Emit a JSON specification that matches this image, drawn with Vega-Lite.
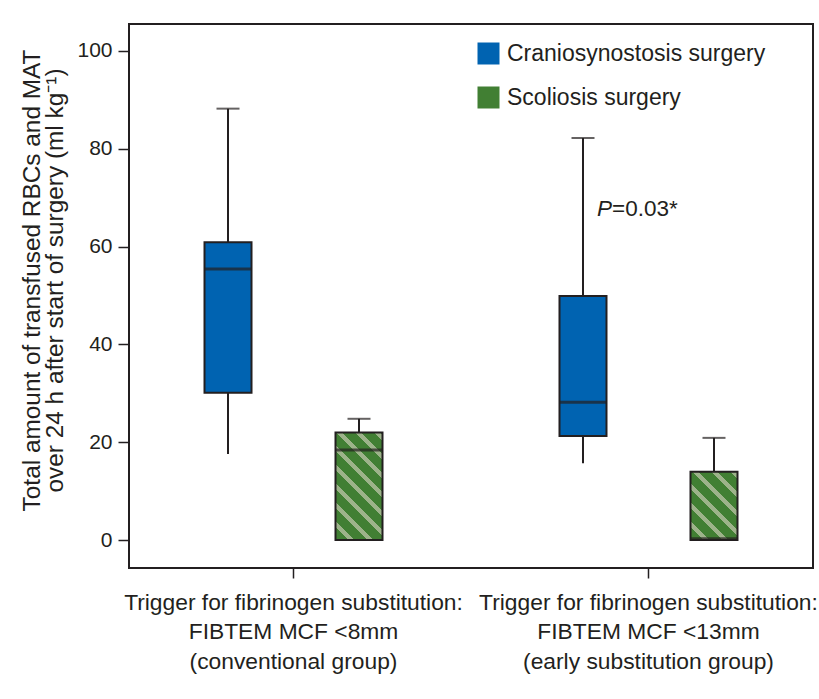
{
  "$schema": "https://vega.github.io/schema/vega-lite/v6.json",
  "width": 684,
  "height": 544,
  "autosize": {"type": "none"},
  "padding": {"left": 129, "top": 24, "right": 6, "bottom": 131},
  "background": "#ffffff",
  "config": {
    "font": "Liberation Sans",
    "view": {"stroke": "#231F20", "strokeWidth": 2},
    "axis": {"labelColor": "#231F20", "titleColor": "#231F20", "tickColor": "#231F20", "domain": false, "grid": false, "tickWidth": 1.5}
  },
  "data": {
    "values": [
      {"group": "Trigger for fibrinogen substitution:|FIBTEM MCF <8mm|(conventional group)", "surgery": "Craniosynostosis surgery", "min": 17.6, "q1": 30.1, "median": 55.4, "q3": 60.9, "max": 88.2},
      {"group": "Trigger for fibrinogen substitution:|FIBTEM MCF <8mm|(conventional group)", "surgery": "Scoliosis surgery", "min": 0, "q1": 0, "median": 18.4, "q3": 22, "max": 24.8},
      {"group": "Trigger for fibrinogen substitution:|FIBTEM MCF <13mm|(early substitution group)", "surgery": "Craniosynostosis surgery", "min": 15.7, "q1": 21.3, "median": 28.2, "q3": 49.9, "max": 82.2},
      {"group": "Trigger for fibrinogen substitution:|FIBTEM MCF <13mm|(early substitution group)", "surgery": "Scoliosis surgery", "min": 0, "q1": 0, "median": 0.3, "q3": 14, "max": 20.9}
    ]
  },
  "encoding": {
    "x": {
      "field": "group", "type": "nominal", "sort": null,
      "scale": {"paddingInner": 0.2, "paddingOuter": 0.0634},
      "axis": {"title": null, "labelAngle": 0, "labelFontSize": 22.8, "labelLineHeight": 29.5, "labelExpr": "split(datum.label, '|')", "labelBaseline": "top", "labelPadding": 13, "tickSize": 10, "labelLimit": 0}
    },
    "xOffset": {
      "field": "surgery", "type": "nominal",
      "scale": {"domain": ["Craniosynostosis surgery", "Scoliosis surgery"], "paddingInner": 0, "paddingOuter": 0.084}
    }
  },
  "layer": [
    {
      "mark": {"type": "rule", "stroke": "#231F20", "strokeWidth": 2},
      "encoding": {
        "y": {"field": "min", "type": "quantitative", "scale": {"domain": [-5.7, 105.5], "nice": false, "zero": false},
          "axis": {"values": [0, 20, 40, 60, 80, 100], "labelFontSize": 21, "tickSize": 11, "labelPadding": 6,
            "title": ["Total amount of transfused RBCs and MAT", "over 24 h after start of surgery (ml kg⁻¹)"],
            "titleFontSize": 24.4, "titleFontWeight": "normal", "titleLineHeight": 23.5, "titlePadding": 9, "titleY": 256}},
        "y2": {"field": "max"}
      }
    },
    {
      "mark": {"type": "tick", "color": "#231F20", "thickness": 2, "size": 23, "orient": "horizontal"},
      "encoding": {"y": {"field": "max", "type": "quantitative"}}
    },
    {
      "transform": [{"filter": "datum.surgery === 'Craniosynostosis surgery'"}],
      "mark": {"type": "bar", "width": 47, "stroke": "#231F20", "strokeWidth": 2},
      "encoding": {
        "y": {"field": "q1", "type": "quantitative"},
        "y2": {"field": "q3"},
        "fill": {
          "field": "surgery", "type": "nominal",
          "scale": {"domain": ["Craniosynostosis surgery", "Scoliosis surgery"], "range": ["#0063B1", "#417F33"]},
          "legend": {
            "title": null, "orient": "none", "legendX": 348, "legendY": 18, "padding": 0,
            "symbolType": "square", "symbolSize": 484, "symbolStrokeWidth": 0, "symbolOpacity": 1,
            "labelFontSize": 23, "labelColor": "#231F20", "labelOffset": 7, "rowPadding": 20, "labelLimit": 0
          }
        }
      }
    },
    {
      "transform": [{"filter": "datum.surgery === 'Scoliosis surgery' && indexof(datum.group, '<8mm') >= 0"}],
      "mark": {"type": "bar", "width": 47, "stroke": "#231F20", "strokeWidth": 2,
        "fill": {"gradient": "linear", "x1": 0, "y1": 1, "x2": 0.527, "y2": -0.2066, "stops": [
          {"offset": 0, "color": "#417F33"}, {"offset": 0.0836, "color": "#417F33"}, {"offset": 0.0836, "color": "#9DB38A"}, {"offset": 0.1229, "color": "#9DB38A"},
          {"offset": 0.1229, "color": "#417F33"}, {"offset": 0.2065, "color": "#417F33"}, {"offset": 0.2065, "color": "#9DB38A"}, {"offset": 0.2458, "color": "#9DB38A"},
          {"offset": 0.2458, "color": "#417F33"}, {"offset": 0.3294, "color": "#417F33"}, {"offset": 0.3294, "color": "#9DB38A"}, {"offset": 0.3687, "color": "#9DB38A"},
          {"offset": 0.3687, "color": "#417F33"}, {"offset": 0.4523, "color": "#417F33"}, {"offset": 0.4523, "color": "#9DB38A"}, {"offset": 0.4916, "color": "#9DB38A"},
          {"offset": 0.4916, "color": "#417F33"}, {"offset": 0.5752, "color": "#417F33"}, {"offset": 0.5752, "color": "#9DB38A"}, {"offset": 0.6145, "color": "#9DB38A"},
          {"offset": 0.6145, "color": "#417F33"}, {"offset": 0.6981, "color": "#417F33"}, {"offset": 0.6981, "color": "#9DB38A"}, {"offset": 0.7374, "color": "#9DB38A"},
          {"offset": 0.7374, "color": "#417F33"}, {"offset": 0.821, "color": "#417F33"}, {"offset": 0.821, "color": "#9DB38A"}, {"offset": 0.8603, "color": "#9DB38A"},
          {"offset": 0.8603, "color": "#417F33"}, {"offset": 0.9439, "color": "#417F33"}, {"offset": 0.9439, "color": "#9DB38A"}, {"offset": 0.9832, "color": "#9DB38A"},
          {"offset": 0.9832, "color": "#417F33"}, {"offset": 1, "color": "#417F33"}]}},
      "encoding": {
        "y": {"field": "q1", "type": "quantitative"},
        "y2": {"field": "q3"}
      }
    },
    {
      "transform": [{"filter": "datum.surgery === 'Scoliosis surgery' && indexof(datum.group, '<13mm') >= 0"}],
      "mark": {"type": "bar", "width": 47, "stroke": "#231F20", "strokeWidth": 2,
        "fill": {"gradient": "linear", "x1": 0, "y1": 1, "x2": 0.7866, "y2": -0.1465, "stops": [
          {"offset": 0, "color": "#417F33"}, {"offset": 0.1119, "color": "#417F33"}, {"offset": 0.1119, "color": "#9DB38A"}, {"offset": 0.1645, "color": "#9DB38A"},
          {"offset": 0.1645, "color": "#417F33"}, {"offset": 0.2764, "color": "#417F33"}, {"offset": 0.2764, "color": "#9DB38A"}, {"offset": 0.329, "color": "#9DB38A"},
          {"offset": 0.329, "color": "#417F33"}, {"offset": 0.4409, "color": "#417F33"}, {"offset": 0.4409, "color": "#9DB38A"}, {"offset": 0.4935, "color": "#9DB38A"},
          {"offset": 0.4935, "color": "#417F33"}, {"offset": 0.6054, "color": "#417F33"}, {"offset": 0.6054, "color": "#9DB38A"}, {"offset": 0.658, "color": "#9DB38A"},
          {"offset": 0.658, "color": "#417F33"}, {"offset": 0.7699, "color": "#417F33"}, {"offset": 0.7699, "color": "#9DB38A"}, {"offset": 0.8225, "color": "#9DB38A"},
          {"offset": 0.8225, "color": "#417F33"}, {"offset": 0.9344, "color": "#417F33"}, {"offset": 0.9344, "color": "#9DB38A"}, {"offset": 0.987, "color": "#9DB38A"},
          {"offset": 0.987, "color": "#417F33"}, {"offset": 1, "color": "#417F33"}]}},
      "encoding": {
        "y": {"field": "q1", "type": "quantitative"},
        "y2": {"field": "q3"}
      }
    },
    {
      "mark": {"type": "tick", "color": "#231F20", "thickness": 3, "size": 47, "orient": "horizontal"},
      "encoding": {"y": {"field": "median", "type": "quantitative"}}
    },
    {
      "transform": [{"filter": "datum.surgery === 'Craniosynostosis surgery' && indexof(datum.group, '<13mm') >= 0"}],
      "mark": {"type": "text", "text": "P", "fontStyle": "italic", "fontSize": 22.5, "align": "left", "baseline": "alphabetic", "color": "#231F20", "dx": 14},
      "encoding": {"y": {"datum": 66.3, "type": "quantitative"}}
    },
    {
      "transform": [{"filter": "datum.surgery === 'Craniosynostosis surgery' && indexof(datum.group, '<13mm') >= 0"}],
      "mark": {"type": "text", "text": "=0.03*", "fontSize": 22.5, "align": "left", "baseline": "alphabetic", "color": "#231F20", "dx": 29},
      "encoding": {"y": {"datum": 66.3, "type": "quantitative"}}
    }
  ]
}
